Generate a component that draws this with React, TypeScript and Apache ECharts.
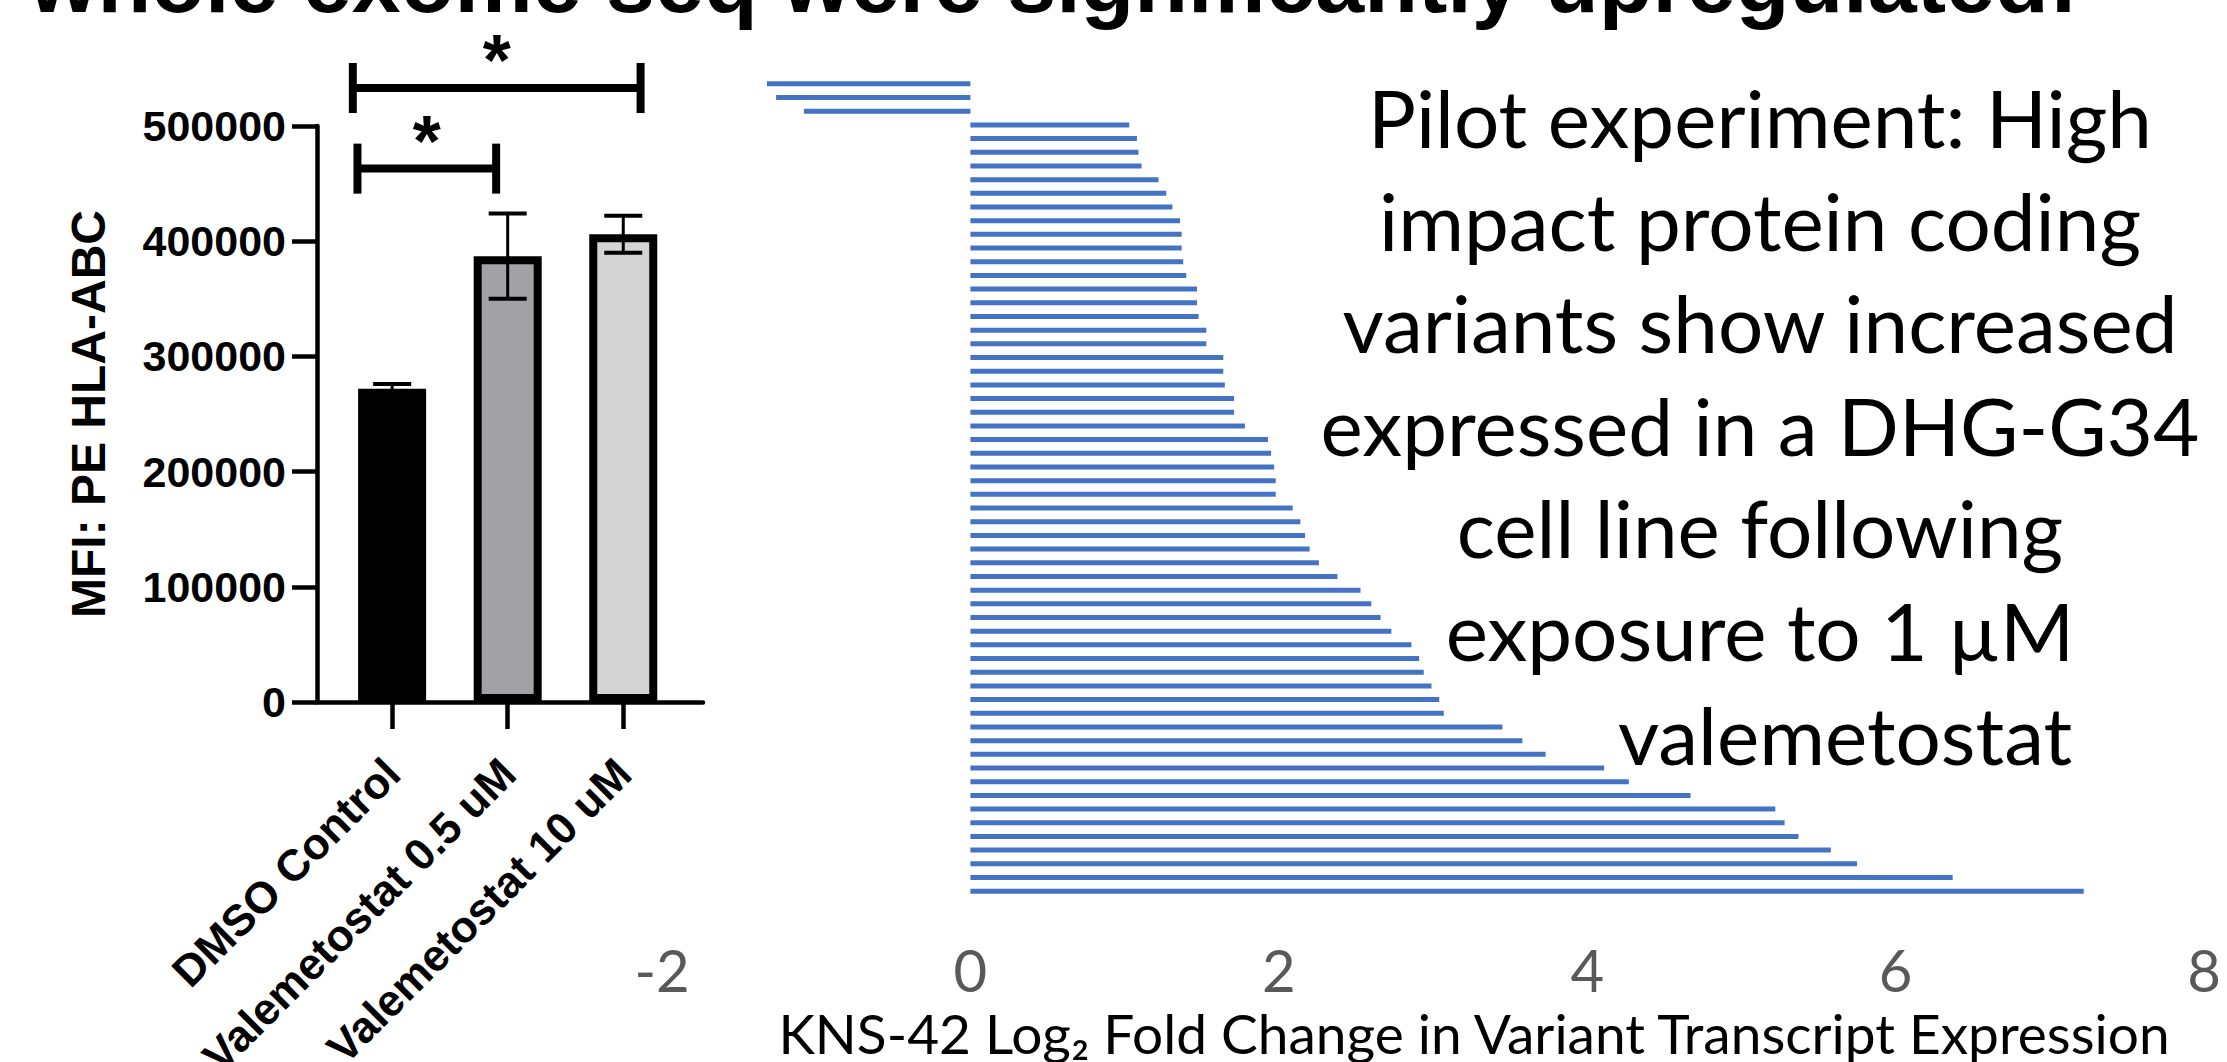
import React, { useEffect, useRef } from "react";
import * as echarts from "echarts";

// ---------- Left panel: MFI bar chart ----------
const groups = ["DMSO Control", "Valemetostat 0.5 uM", "Valemetostat 10 uM"];
const groupPos = [1, 2, 3];
const mfiMean = [272000, 387000, 406000];
const mfiSem = [4000, 37000, 16000];
const groupColors = ["#000000", "#a2a2a6", "#d4d4d4"];
const bracketFrom = [0.7, 0.66];
const bracketTo = [1.9, 3.15];
const bracketLevel = [463000, 533000];
const bracketLabel = ["*", "*"];

// ---------- Right panel: log2 fold change of variants ----------
const variantLog2FC = [
  -1.32, -1.26, -1.08, 1.03, 1.08, 1.09, 1.11, 1.22, 1.27, 1.31,
  1.36, 1.37, 1.37, 1.38, 1.4, 1.47, 1.47, 1.48, 1.53, 1.53,
  1.64, 1.64, 1.65, 1.71, 1.71, 1.78, 1.93, 1.95, 1.97, 1.98,
  1.98, 2.09, 2.14, 2.17, 2.2, 2.26, 2.38, 2.53, 2.6, 2.66,
  2.73, 2.86, 2.91, 2.94, 2.99, 3.04, 3.07, 3.45, 3.58, 3.73,
  4.11, 4.27, 4.67, 5.22, 5.28, 5.37, 5.58, 5.75, 6.37, 7.22,
];
const variantNames = variantLog2FC.map((_, i) => "Variant " + (i + 1));

const titleText = "whole exome seq were significantly upregulated:";
const noteLines = [
  "Pilot experiment: High",
  "impact protein coding",
  "variants show increased",
  "expressed in a DHG-G34",
  "cell line following",
  "exposure to 1 \u00b5M",
];
const noteLast = "valemetostat";
const fcAxisTitle = "KNS-42 Log\u2082 Fold Change in Variant Transcript Expression";

const ARIAL = 'Arial, "Liberation Sans", sans-serif';
const SANS = 'Lato, "Open Sans", sans-serif';

export default function App() {
  const ref = useRef<HTMLDivElement>(null);
  useEffect(() => {
    const chart = echarts.init(ref.current!, null, { renderer: "svg" });
    const option: any = {
      animation: false,
      backgroundColor: "#ffffff",
      grid: [
        { left: 317, top: 126, width: 386, height: 576, containLabel: false, outerBoundsMode: "none" },
        { left: 662, top: 77, width: 1542, height: 821, containLabel: false, outerBoundsMode: "none" },
      ],
      xAxis: [
        {
          type: "value",
          gridIndex: 0,
          min: 0.35,
          max: 3.69,
          splitLine: { show: false },
          axisLine: { show: true, lineStyle: { color: "#000", width: 4.5 } },
          axisTick: {
            show: true,
            customValues: groupPos,
            length: 27,
            lineStyle: { color: "#000", width: 4.5 },
          },
          axisLabel: {
            customValues: groupPos,
            formatter: (v: number) => groups[Math.round(v) - 1] || "",
            rotate: 45,
            margin: 64,
            color: "#000",
            fontSize: 44,
            fontWeight: "bold",
            fontFamily: ARIAL,
          },
        },
        {
          type: "value",
          gridIndex: 1,
          min: -2,
          max: 8,
          interval: 2,
          splitLine: { show: false },
          axisLine: { show: false },
          axisTick: { show: false },
          axisLabel: {
            color: "#595959",
            fontSize: 58,
            fontFamily: SANS,
            margin: 42,
          },
        },
      ],
      yAxis: [
        {
          type: "value",
          gridIndex: 0,
          min: 0,
          max: 500000,
          interval: 100000,
          splitLine: { show: false },
          axisLine: { show: true, lineStyle: { color: "#000", width: 4.5 } },
          axisTick: { show: true, length: 25, lineStyle: { color: "#000", width: 4.5 } },
          axisLabel: {
            formatter: (v: number) => String(v),
            color: "#000",
            fontSize: 43,
            fontWeight: "bold",
            fontFamily: ARIAL,
            margin: 31,
          },
          name: "MFI: PE HLA-ABC",
          nameLocation: "middle",
          nameGap: 205,
          nameTextStyle: {
            color: "#000",
            fontSize: 48,
            fontWeight: "bold",
            fontFamily: ARIAL,
          },
        },
        {
          type: "category",
          gridIndex: 1,
          data: variantNames,
          inverse: true,
          axisLine: { show: false },
          axisTick: { show: false },
          axisLabel: { show: false },
          splitLine: { show: false },
        },
      ],
      series: [
        {
          type: "bar",
          xAxisIndex: 0,
          yAxisIndex: 0,
          barWidth: 68,
          data: groupPos.map((x, i) => ({
            value: [x, mfiMean[i]],
            itemStyle: { color: groupColors[i], borderColor: "#000", borderWidth: 8 },
          })),
        },
        {
          type: "custom",
          xAxisIndex: 0,
          yAxisIndex: 0,
          encode: { x: 0, y: [1, 2] },
          data: groupPos.map((x, i) => [x, mfiMean[i] - mfiSem[i], mfiMean[i] + mfiSem[i]]),
          renderItem: (params: any, api: any) => {
            const x = api.value(0);
            const lo = api.coord([x, api.value(1)]);
            const hi = api.coord([x, api.value(2)]);
            const hw = 19;
            return {
              type: "group",
              children: [
                { type: "line", shape: { x1: lo[0], y1: lo[1], x2: hi[0], y2: hi[1] }, style: { stroke: "#000", lineWidth: 3 } },
                { type: "line", shape: { x1: hi[0] - hw, y1: hi[1], x2: hi[0] + hw, y2: hi[1] }, style: { stroke: "#000", lineWidth: 4 } },
                { type: "line", shape: { x1: lo[0] - hw, y1: lo[1], x2: lo[0] + hw, y2: lo[1] }, style: { stroke: "#000", lineWidth: 4 } },
              ],
            };
          },
          z: 3,
        },
        {
          type: "custom",
          xAxisIndex: 0,
          yAxisIndex: 0,
          clip: false,
          encode: { x: [0, 1], y: 2 },
          data: bracketFrom.map((f, i) => [f, bracketTo[i], bracketLevel[i]]),
          renderItem: (params: any, api: any) => {
            const p1 = api.coord([api.value(0), api.value(2)]);
            const p2 = api.coord([api.value(1), api.value(2)]);
            const arm = 25;
            const st = { stroke: "#000", lineWidth: 8 };
            return {
              type: "group",
              children: [
                { type: "line", shape: { x1: p1[0], y1: p1[1], x2: p2[0], y2: p2[1] }, style: st },
                { type: "line", shape: { x1: p1[0], y1: p1[1] - arm, x2: p1[0], y2: p1[1] + arm }, style: st },
                { type: "line", shape: { x1: p2[0], y1: p2[1] - arm, x2: p2[0], y2: p2[1] + arm }, style: st },
                {
                  type: "text",
                  x: (p1[0] + p2[0]) / 2,
                  y: p1[1] - 28,
                  style: {
                    text: bracketLabel[params.dataIndex],
                    fill: "#000",
                    font: "bold 72px " + ARIAL,
                    align: "center",
                    verticalAlign: "middle",
                  },
                },
              ],
            };
          },
          z: 4,
        },
        {
          type: "bar",
          xAxisIndex: 1,
          yAxisIndex: 1,
          barWidth: 5,
          data: variantLog2FC,
          itemStyle: { color: "#4472C4" },
        },
      ],
      graphic: [
        {
          type: "text",
          x: 2078,
          y: 25,
          style: {
            text: titleText,
            fill: "#000",
            font: "bold 88px " + ARIAL,
            align: "right",
            verticalAlign: "bottom",
          },
        },
        {
          type: "text",
          x: 1760,
          y: 66,
          style: {
            text: noteLines.join("\n"),
            fill: "#000",
            font: "80px " + SANS,
            lineHeight: 102.5,
            align: "center",
            verticalAlign: "top",
          },
        },
        {
          type: "text",
          x: 1845,
          y: 734,
          style: {
            text: noteLast,
            fill: "#000",
            font: "80px " + SANS,
            align: "center",
            verticalAlign: "middle",
          },
        },
        {
          type: "text",
          x: 1474,
          y: 1033,
          style: {
            text: fcAxisTitle,
            fill: "#000",
            font: "55px " + SANS,
            align: "center",
            verticalAlign: "middle",
          },
        },
      ],
    };
    chart.setOption(option);
    return () => chart.dispose();
  }, []);
  return (
    <div
      ref={ref}
      style={{ position: "fixed", left: 0, top: 0, width: 2227, height: 1062 }}
    />
  );
}
